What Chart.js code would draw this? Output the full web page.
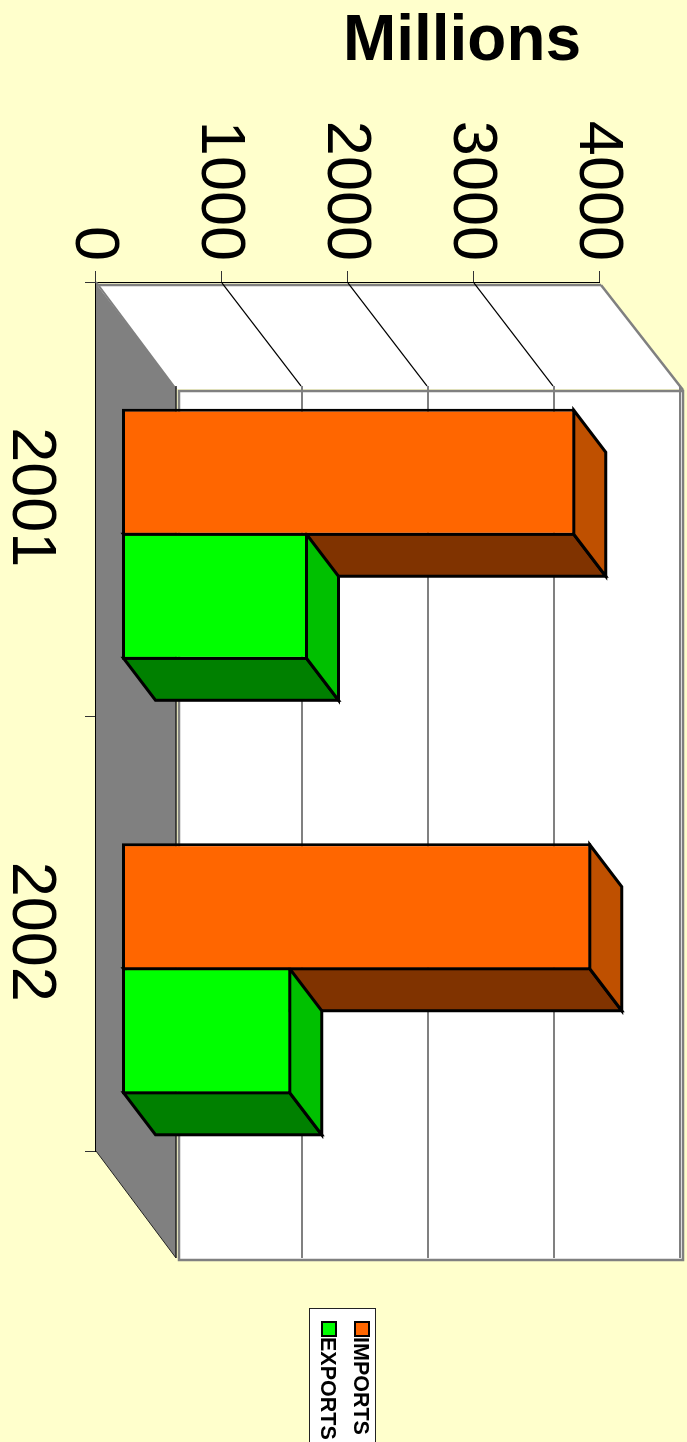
<!DOCTYPE html>
<html>
<head>
<meta charset="utf-8">
<title>Millions</title>
<script src="https://cdn.jsdelivr.net/npm/chart.js@4/dist/chart.umd.min.js"></script>
<style>
html, body { margin: 0; padding: 0; width: 687px; height: 1442px; overflow: hidden; background: #FFFFCC; }
/* the whole chart is a column chart turned a quarter turn clockwise */
#chart { position: absolute; left: 0; top: 0; transform-origin: 0 0; transform: translateX(687px) rotate(90deg); }
</style>
</head>
<body>
<canvas id="chart" width="1442" height="687"></canvas>
<script>
const categories = ['2001', '2002'];
const importsValues = [3577, 3704];
const exportsValues = [1456, 1323];
const valueMax = 4000;
const valueStep = 1000;

const FONT = '"Liberation Sans", Arial, sans-serif';
const shift = { x: 35, y: -28.5 };    // bars stand inside the box
const barDepth = { x: 42, y: -32 };
const boxDepth = { x: 107, y: -80 };
const edge = 3;                       // bar outline, Chart.js draws it inside the rect

function poly(ctx, pts, fill, stroke, lw) {
    ctx.beginPath();
    pts.forEach((p, i) => i ? ctx.lineTo(p[0], p[1]) : ctx.moveTo(p[0], p[1]));
    ctx.closePath();
    if (fill) { ctx.fillStyle = fill; ctx.fill(); }
    if (stroke) { ctx.strokeStyle = stroke; ctx.lineWidth = lw; ctx.lineJoin = 'miter'; ctx.stroke(); }
}

function line(ctx, x1, y1, x2, y2, color, lw) {
    ctx.beginPath();
    ctx.moveTo(x1, y1);
    ctx.lineTo(x2, y2);
    ctx.strokeStyle = color;
    ctx.lineWidth = lw;
    ctx.stroke();
}

const box3d = {
    id: 'box3d',
    beforeDatasetsDraw(chart) {
        const ctx = chart.ctx;
        const xs = chart.scales.x, ys = chart.scales.y;
        const x0 = xs.left, x1 = xs.right;
        const y0 = ys.getPixelForValue(0), yTop = ys.getPixelForValue(valueMax);
        const dx = boxDepth.x, dy = boxDepth.y;
        ctx.save();
        // floor
        poly(ctx, [[x0, y0], [x1, y0], [x1 + dx, y0 + dy], [x0 + dx, y0 + dy]], '#808080');
        line(ctx, x1, y0, x1 + dx, y0 + dy, '#222', 1);
        // back wall
        poly(ctx, [[x0 + dx + 2, y0 + dy - 3], [x1 + dx + 2, y0 + dy - 3], [x1 + dx + 2, yTop + dy - 3], [x0 + dx + 2, yTop + dy - 3]], '#fff', '#808080', 2.5);
        // end wall
        poly(ctx, [[x0 + 3, y0 - 1], [x0 + 3, yTop - 1], [x0 + dx, yTop + dy - 3], [x0 + dx, y0 + dy - 1]], '#fff');
        line(ctx, x0 + 3, y0 - 1, x0 + 3, yTop - 1, '#808080', 2.5);
        line(ctx, x0 + 3, yTop - 1, x0 + dx + 1, yTop + dy - 3, '#808080', 2.5);
        line(ctx, x0, y0, x0 + dx, y0 + dy, '#808080', 2);
        // gridlines
        ys.ticks.forEach(t => {
            const y = ys.getPixelForValue(t.value);
            if (t.value > 0 && t.value < valueMax) line(ctx, x0 + 1, y, x0 + dx - 3, y + dy + 1, '#000', 1.2);
            const color = t.value === 0 ? '#222' : '#808080';
            line(ctx, x0 + dx - 3, y + dy, x1 + dx, y + dy, color, t.value === 0 ? 1.5 : 2);
        });
        // bar sides: every dataset before the fronts are drawn
        chart.data.datasets.forEach((ds, i) => {
            chart.getDatasetMeta(i).data.forEach(bar => {
                const half = bar.width / 2 - edge / 2;
                const l = bar.x - half + shift.x, r = bar.x + half + shift.x;
                const top = bar.y + edge / 2 + shift.y, base = bar.base - edge / 2 + shift.y;
                const bx = barDepth.x, by = barDepth.y;
                poly(ctx, [[r, top], [r + bx, top + by], [r + bx, base + by], [r, base]], ds.sideColor, '#000', edge);
                poly(ctx, [[l, top], [l + bx, top + by], [r + bx, top + by], [r, top]], ds.topColor, '#000', edge);
            });
        });
        ctx.restore();
    },
    beforeDatasetDraw(chart) {
        chart.ctx.save();
        chart.ctx.translate(shift.x, shift.y);
    },
    afterDatasetDraw(chart) {
        chart.ctx.restore();
    },
    afterDraw(chart) {
        const ctx = chart.ctx;
        ctx.save();
        // heading, level on the page
        ctx.translate(42, 225);
        ctx.rotate(-Math.PI / 2);
        ctx.fillStyle = '#000';
        ctx.font = 'bold 64px ' + FONT;
        ctx.textAlign = 'center';
        ctx.textBaseline = 'middle';
        ctx.fillText('Millions', 0, 0);
        ctx.restore();
        // legend box runs off the edge of the page
        ctx.save();
        ctx.fillStyle = '#fff';
        ctx.fillRect(1308, 311, 140, 67);
        ctx.strokeStyle = '#222';
        ctx.lineWidth = 1;
        ctx.strokeRect(1308.5, 311.5, 140, 66);
        ctx.font = 'bold 21.5px ' + FONT;
        ctx.textBaseline = 'middle';
        chart.data.datasets.forEach((ds, i) => {
            const y = 325 + i * 33;
            ctx.fillStyle = ds.backgroundColor;
            ctx.fillRect(1322, y - 7, 14, 14);
            ctx.lineWidth = 2;
            ctx.strokeStyle = '#000';
            ctx.strokeRect(1322, y - 7, 14, 14);
            ctx.fillStyle = '#000';
            ctx.fillText(ds.label, 1337, y + 2);
        });
        ctx.restore();
    }
};

new Chart(document.getElementById('chart').getContext('2d'), {
    type: 'bar',
    data: {
        labels: categories,
        datasets: [
            { label: 'IMPORTS', data: importsValues, base: -20, backgroundColor: '#FF6600', sideColor: '#803300', topColor: '#BF5000', borderColor: '#000', borderWidth: edge, borderSkipped: false, clip: false },
            { label: 'EXPORTS', data: exportsValues, base: -20, backgroundColor: '#00FF00', sideColor: '#008000', topColor: '#00C000', borderColor: '#000', borderWidth: edge, borderSkipped: false, clip: false }
        ]
    },
    options: {
        responsive: false,
        animation: false,
        events: [],
        layout: { autoPadding: false, padding: { left: 0, right: 291, top: 87, bottom: 0 } },
        categoryPercentage: 0.571,
        barPercentage: 1.024,
        plugins: { legend: { display: false }, title: { display: false }, tooltip: { enabled: false } },
        scales: {
            x: {
                afterFit(scale) { scale.height = 96; },
                grid: { drawOnChartArea: false, tickLength: 11, tickColor: '#333', tickWidth: 1 },
                border: { color: '#000', width: 1 },
                ticks: { color: '#000', font: { family: FONT, size: 63 }, padding: 17, labelOffset: -2, maxRotation: 0, minRotation: 0 }
            },
            y: {
                min: 0,
                max: valueMax,
                afterFit(scale) { scale.width = 282; },
                grid: { drawOnChartArea: false, tickLength: 11, tickColor: '#333', tickWidth: 1 },
                border: { color: '#000', width: 1 },
                ticks: { stepSize: valueStep, color: '#000', font: { family: FONT, size: 63 }, padding: 10, labelOffset: 3, callback: v => String(v) }
            }
        }
    },
    plugins: [box3d]
});
</script>
</body>
</html>
